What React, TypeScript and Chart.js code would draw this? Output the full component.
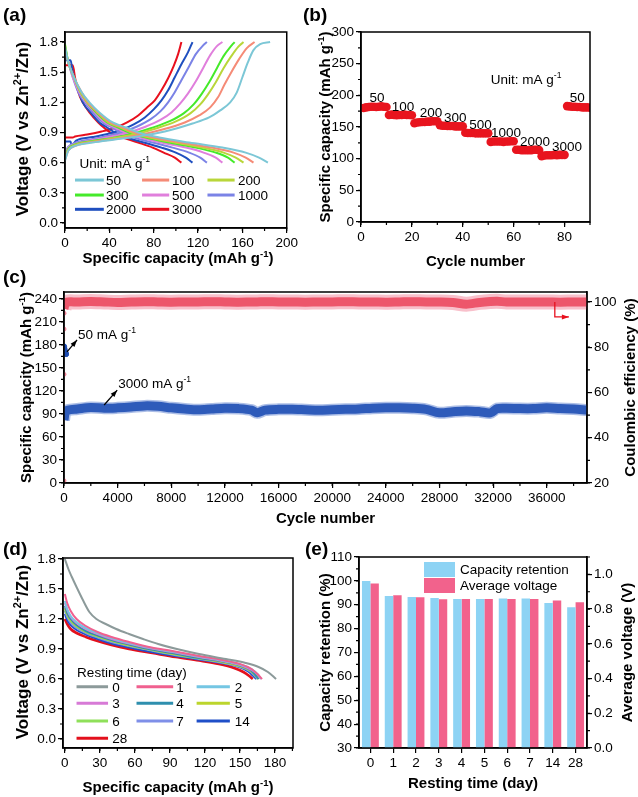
import React, { useEffect, useRef } from "react";
import { Chart, registerables } from "chart.js";
Chart.register(...registerables);

const FONT = '"Liberation Sans", Arial, Helvetica, sans-serif';
const TICK = 13.5;
const TITLE = 15;
const VTITLE = 17;
const PLABEL = 19;

type Pt = [number, number];
type Part = [string, boolean?];
type Rich = string | Part[];

// ---------------- Panel (a): charge/discharge at different rates ----------------
const rateLabels = ["50", "100", "200", "300", "500", "1000", "2000", "3000"];
const rateColors = ["#7cc7d6", "#f58b77", "#b9d63a", "#45ea2a", "#e07fdc", "#7b83e6", "#1f4fbf", "#e8101e"];

const dis50: Pt[] = [[0,1.75],[3,1.6],[8,1.45],[15,1.3],[22,1.2],[31,1.1],[43,1.0],[55,0.95],[66,0.9],[85,0.85],[112,0.8],[142,0.75],[163,0.7],[175,0.65],[183,0.6]];
const dis100: Pt[] = [[0,1.72],[3,1.6],[8,1.45],[15,1.3],[21,1.2],[30,1.1],[41,1.0],[52,0.95],[63,0.9],[80,0.85],[105,0.8],[132,0.75],[152,0.7],[163,0.65],[170,0.6]];
const dis200: Pt[] = [[0,1.76],[3,1.6],[8,1.45],[14,1.3],[20,1.2],[29,1.1],[39,1.0],[50,0.95],[60,0.9],[76,0.85],[99,0.8],[124,0.75],[143,0.7],[154,0.65],[161,0.6]];
const dis300: Pt[] = [[0,1.78],[3,1.6],[8,1.45],[14,1.3],[20,1.2],[28,1.1],[38,1.0],[48,0.95],[58,0.9],[73,0.85],[94,0.8],[118,0.75],[136,0.7],[147,0.65],[153,0.6]];
const dis500: Pt[] = [[0,1.74],[3,1.6],[7,1.45],[13,1.3],[19,1.2],[27,1.1],[36,1.0],[45,0.95],[54,0.9],[68,0.85],[87,0.8],[109,0.75],[125,0.7],[136,0.65],[142,0.6]];
const dis1000: Pt[] = [[0,1.72],[3,1.6],[7,1.45],[12,1.3],[18,1.2],[25,1.1],[34,1.0],[42,0.95],[50,0.9],[62,0.85],[79,0.8],[97,0.75],[112,0.7],[122,0.65],[128,0.6]];
const dis2000: Pt[] = [[0,1.62],[5,1.62],[7,1.5],[11,1.35],[16,1.2],[23,1.1],[31,1.0],[38,0.95],[45,0.9],[56,0.85],[71,0.8],[87,0.75],[100,0.7],[109,0.65],[115,0.6]];
const dis3000: Pt[] = [[0,1.57],[7,1.57],[9,1.45],[12,1.3],[16,1.2],[22,1.1],[30,1.0],[35,0.95],[41,0.9],[52,0.85],[66,0.8],[79,0.75],[89,0.7],[99,0.65],[105,0.6]];

const chg50: Pt[] = [[0,0.62],[3,0.72],[10,0.77],[25,0.8],[45,0.83],[65,0.86],[90,0.91],[115,0.99],[130,1.05],[140,1.12],[149,1.2],[155,1.3],[160,1.45],[165,1.6],[170,1.72],[176,1.78],[185,1.8]];
const chg100: Pt[] = [[0,0.63],[3,0.72],[10,0.77],[25,0.805],[45,0.835],[65,0.87],[88,0.93],[108,1.0],[121,1.07],[131,1.15],[138,1.25],[144,1.38],[150,1.5],[157,1.63],[164,1.74],[171,1.8]];
const chg200: Pt[] = [[0,0.65],[3,0.73],[10,0.78],[25,0.81],[45,0.845],[62,0.88],[82,0.94],[100,1.01],[113,1.09],[122,1.18],[129,1.28],[136,1.4],[143,1.54],[150,1.66],[156,1.75],[161,1.8]];
const chg300: Pt[] = [[0,0.66],[3,0.74],[10,0.785],[25,0.815],[45,0.85],[60,0.885],[78,0.945],[95,1.015],[107,1.09],[116,1.18],[123,1.28],[130,1.4],[137,1.54],[143,1.66],[149,1.75],[153,1.8]];
const chg500: Pt[] = [[0,0.68],[3,0.75],[10,0.79],[25,0.825],[42,0.86],[56,0.895],[72,0.955],[86,1.025],[96,1.1],[104,1.19],[111,1.29],[118,1.41],[125,1.55],[131,1.67],[137,1.76],[142,1.8]];
const chg1000: Pt[] = [[0,0.7],[3,0.76],[10,0.8],[25,0.835],[40,0.87],[52,0.905],[65,0.96],[77,1.03],[86,1.11],[93,1.2],[99,1.3],[105,1.42],[112,1.56],[118,1.68],[124,1.76],[128,1.8]];
const chg2000: Pt[] = [[0,0.81],[5,0.81],[6,0.77],[10,0.82],[25,0.855],[40,0.89],[52,0.93],[62,0.98],[72,1.05],[80,1.13],[87,1.22],[93,1.32],[99,1.45],[105,1.58],[111,1.7],[115,1.8]];
const chg3000: Pt[] = [[0,0.85],[7,0.85],[9,0.86],[20,0.88],[33,0.91],[46,0.95],[56,1.0],[66,1.07],[74,1.15],[81,1.22],[87,1.32],[93,1.44],[98,1.56],[102,1.68],[105,1.8]];

const aDis = [dis50, dis100, dis200, dis300, dis500, dis1000, dis2000, dis3000];
const aChg = [chg50, chg100, chg200, chg300, chg500, chg1000, chg2000, chg3000];
const aXTicks = [0, 40, 80, 120, 160, 200];
const aYTicks = [0, 0.3, 0.6, 0.9, 1.2, 1.5, 1.8];

// ---------------- Panel (b): rate capability ----------------
const bSeg50a = [180, 181, 181.5, 182, 182, 181.5, 182, 182.5, 182, 181.5];
const bSeg100 = [169, 169.5, 169, 168.5, 169, 169, 169.5, 169, 169, 168.5];
const bSeg200 = [156, 157, 157.5, 158, 158, 158.5, 158.5, 159, 159, 159];
const bSeg300 = [153, 152, 152, 151.5, 151.5, 151.5, 151, 151, 151, 151];
const bSeg500 = [141, 140.5, 140.5, 140.5, 140, 140, 140, 140, 140, 140];
const bSeg1000 = [126.5, 127, 127, 127, 127, 126.5, 127, 127, 127.5, 127.5];
const bSeg2000 = [114, 114, 113.5, 113.5, 113.5, 113.5, 113.5, 114, 114, 113.5];
const bSeg3000 = [104, 105, 105.5, 105.5, 105.5, 106, 105.5, 106, 106, 106];
const bSeg50b = [183, 182.5, 182, 182, 181.5, 181.5, 181, 181, 181, 180.5];
const bCapacity = [...bSeg50a, ...bSeg100, ...bSeg200, ...bSeg300, ...bSeg500, ...bSeg1000, ...bSeg2000, ...bSeg3000, ...bSeg50b];
const bXTicks = [0, 20, 40, 60, 80];
const bYTicks = [0, 50, 100, 150, 200, 250, 300];

// ---------------- Panel (c): long-term cycling ----------------
const cCycles = [1, 100, 300, 1000, 2000, 3000, 4000, 5000, 6000, 7000, 8000, 9000, 10000, 11000, 12000, 13000, 14000, 14400, 15000, 16000, 17000, 18000, 19000, 20000, 21000, 22000, 23000, 24000, 25000, 26000, 27000, 28000, 29000, 30000, 31000, 31800, 32300, 33000, 34000, 35000, 36000, 37000, 38000, 39000];
const cCapacity = [82, 92, 95, 96.5, 98.5, 97.5, 98, 99, 100.5, 100, 98, 96.5, 95.5, 96.5, 97.5, 97, 95, 91.5, 95, 96, 96, 95.5, 95, 95.5, 96, 96.5, 97.5, 98, 98, 97.5, 96, 91.5, 93, 94, 93, 91.5, 97, 97.5, 97, 97, 98, 97, 96.5, 95];
const cCE = [97, 99.5, 100, 100, 100.2, 100, 99.8, 100, 100.1, 100, 99.9, 100, 100, 100.1, 100, 99.9, 100, 100, 100.1, 100, 100, 99.9, 100, 100, 100.1, 100, 100, 99.9, 100, 100.1, 100, 100, 99.8, 99.0, 99.8, 100.2, 100.3, 100, 100, 100, 100, 99.9, 100, 100];
const cActCycles = [10, 40, 80, 120, 160];
const cActCapacity = [178, 175, 172, 170, 168];
const cInitCycles = [1, 2, 3, 4, 5];
const cInitCE = [21, 68, 78, 88, 95];
const cXTicks = [0, 4000, 8000, 12000, 16000, 20000, 24000, 28000, 32000, 36000];
const cYTicks = [0, 30, 60, 90, 120, 150, 180, 210, 240];
const cY2Ticks = [20, 40, 60, 80, 100];

// ---------------- Panel (d): self-discharge curves ----------------
const restLabels = ["0", "1", "2", "3", "4", "5", "6", "7", "14", "28"];
const restColors = ["#8c9a9a", "#f0608f", "#74c6e3", "#d77ad6", "#2e8fae", "#bcd52c", "#8fe05a", "#7f8fe8", "#1f4fc8", "#e3101c"];
const day0: Pt[] = [[0,1.8],[3,1.7],[6,1.62],[10,1.52],[15,1.4],[21,1.27],[27,1.2],[35,1.15],[44,1.1],[55,1.05],[67,1.0],[80,0.95],[96,0.9],[115,0.85],[138,0.8],[155,0.76],[166,0.72],[174,0.67],[181,0.6]];
const day1: Pt[] = [[0,1.45],[2,1.36],[5,1.28],[10,1.2],[18,1.13],[28,1.07],[40,1.02],[55,0.97],[72,0.92],[92,0.88],[115,0.83],[135,0.79],[150,0.75],[160,0.7],[165,0.65],[169,0.6]];
const day2: Pt[] = [[0,1.38],[2,1.3],[5,1.23],[10,1.17],[18,1.11],[28,1.06],[40,1.01],[55,0.96],[72,0.915],[92,0.875],[115,0.825],[135,0.785],[150,0.745],[160,0.7],[165,0.65],[168,0.6]];
const day3: Pt[] = [[0,1.36],[2,1.29],[5,1.22],[10,1.16],[18,1.1],[28,1.05],[40,1.0],[55,0.955],[72,0.91],[92,0.87],[115,0.82],[135,0.78],[150,0.74],[160,0.69],[165,0.645],[168,0.6]];
const day4: Pt[] = [[0,1.33],[2,1.26],[5,1.2],[10,1.14],[18,1.08],[28,1.035],[40,0.99],[55,0.945],[72,0.9],[92,0.86],[115,0.81],[135,0.775],[150,0.735],[159,0.69],[163,0.645],[166,0.6]];
const day5: Pt[] = [[0,1.31],[2,1.25],[5,1.19],[10,1.13],[18,1.075],[28,1.03],[40,0.985],[55,0.94],[72,0.9],[92,0.855],[115,0.81],[135,0.77],[150,0.73],[159,0.685],[163,0.64],[166,0.6]];
const day6: Pt[] = [[0,1.3],[2,1.24],[5,1.18],[10,1.125],[18,1.07],[28,1.025],[40,0.98],[55,0.935],[72,0.895],[92,0.85],[115,0.805],[135,0.768],[150,0.728],[159,0.683],[163,0.64],[166,0.6]];
const day7: Pt[] = [[0,1.28],[2,1.22],[5,1.16],[10,1.11],[18,1.06],[28,1.015],[40,0.97],[55,0.93],[72,0.89],[92,0.845],[115,0.8],[135,0.762],[150,0.722],[158,0.68],[162,0.64],[165,0.6]];
const day14: Pt[] = [[0,1.25],[2,1.19],[5,1.14],[10,1.09],[18,1.045],[28,1.0],[40,0.955],[55,0.915],[72,0.875],[92,0.835],[115,0.795],[135,0.758],[150,0.718],[157,0.675],[161,0.635],[164,0.6]];
const day28: Pt[] = [[0,1.2],[2,1.15],[5,1.1],[10,1.06],[18,1.02],[28,0.98],[40,0.94],[55,0.9],[75,0.86],[95,0.82],[115,0.785],[132,0.75],[145,0.71],[153,0.67],[158,0.63],[161,0.6]];
const dCurves = [day0, day1, day2, day3, day4, day5, day6, day7, day14, day28];
const dXTicks = [0, 30, 60, 90, 120, 150, 180];
const dYTicks = [0, 0.3, 0.6, 0.9, 1.2, 1.5, 1.8];

// ---------------- Panel (e): retention & average voltage ----------------
const eRetention = [100, 93.7, 93.2, 92.8, 92.4, 92.4, 92.6, 92.6, 90.7, 89.0];
const eAvgVoltage = [0.947, 0.879, 0.868, 0.857, 0.858, 0.858, 0.858, 0.858, 0.849, 0.84];
const eYTicks = [30, 40, 50, 60, 70, 80, 90, 100, 110];
const eY2Ticks = [0, 0.2, 0.4, 0.6, 0.8, 1.0];

// ---------------- helpers ----------------
const capTitle: Part[] = [["Specific capacity (mAh g"], ["-1", true], [")"]];
const voltTitle: Part[] = [["Voltage (V vs Zn"], ["2+", true], ["/Zn)"]];
const unitText: Part[] = [["Unit: mA g"], ["-1", true]];
const mAText = (v: string): Part[] => [[v + " mA g"], ["-1", true]];

const toXY = (arr: Pt[]) => arr.map(([x, y]) => ({ x, y }));

function drawRich(ctx: CanvasRenderingContext2D, rich: Rich, x: number, y: number, size: number, bold: boolean, align: string, rot: number, color: string) {
  const parts: Part[] = typeof rich === "string" ? [[rich]] : rich;
  const f = (s: number) => `${bold ? "bold " : ""}${s}px ${FONT}`;
  let w = 0;
  const ws = parts.map(([t, sup]) => {
    ctx.font = f(sup ? size * 0.64 : size);
    const m = ctx.measureText(t).width;
    w += m;
    return m;
  });
  ctx.save();
  ctx.translate(x, y);
  ctx.rotate(rot);
  ctx.fillStyle = color;
  ctx.textBaseline = "alphabetic";
  ctx.textAlign = "left";
  let cx = align === "center" ? -w / 2 : align === "right" ? -w : 0;
  const base = size * 0.36;
  parts.forEach(([t, sup], i) => {
    ctx.font = f(sup ? size * 0.64 : size);
    ctx.fillText(t, cx, sup ? base - size * 0.42 : base);
    cx += ws[i];
  });
  ctx.restore();
}

function arrowHead(ctx: CanvasRenderingContext2D, x1: number, y1: number, x2: number, y2: number, len: number, wid: number) {
  const a = Math.atan2(y2 - y1, x2 - x1);
  const c = Math.cos(a), s = Math.sin(a);
  ctx.beginPath();
  ctx.moveTo(x2, y2);
  ctx.lineTo(x2 - len * c + (wid / 2) * s, y2 - len * s - (wid / 2) * c);
  ctx.lineTo(x2 - len * c - (wid / 2) * s, y2 - len * s + (wid / 2) * c);
  ctx.closePath();
  ctx.fill();
}

interface TextItem { t: Rich; x: number; y: number; mode?: "px" | "data" | "ca"; xa?: string; ya?: string; size?: number; bold?: boolean; align?: string; rot?: number; color?: string }
interface DecoCfg {
  minor: [string, number][];
  texts: TextItem[];
  lines?: { x1: number; x2: number; y: number; color: string }[];
  boxes?: { x: number; y: number; w: number; h: number; color: string }[];
  arrows?: { pts: Pt[]; ya?: string; color: string }[];
}

function makeDeco(cfg: DecoCfg) {
  return {
    id: "deco",
    afterDraw(chart: any) {
      const { ctx, chartArea: ca, scales } = chart;
      ctx.save();
      ctx.strokeStyle = "#000";
      ctx.lineWidth = 1.2;
      for (const [id, step] of cfg.minor) {
        const s = scales[id];
        const n0 = Math.ceil(s.min / step - 1e-6);
        const n1 = Math.floor(s.max / step + 1e-6);
        ctx.beginPath();
        for (let n = n0; n <= n1; n++) {
          const p = s.getPixelForValue(n * step);
          if (s.isHorizontal()) { ctx.moveTo(p, ca.bottom); ctx.lineTo(p, ca.bottom + 3); }
          else if (s.position === "right") { ctx.moveTo(ca.right, p); ctx.lineTo(ca.right + 3, p); }
          else { ctx.moveTo(ca.left, p); ctx.lineTo(ca.left - 3, p); }
        }
        ctx.stroke();
      }
      ctx.lineWidth = 1.5;
      ctx.strokeStyle = "#000";
      ctx.strokeRect(ca.left, ca.top, ca.right - ca.left, ca.bottom - ca.top);
      for (const l of cfg.lines || []) {
        const xs = scales.x, ys = scales.y;
        ctx.strokeStyle = l.color;
        ctx.lineWidth = 3;
        ctx.beginPath();
        ctx.moveTo(xs.getPixelForValue(l.x1), ys.getPixelForValue(l.y));
        ctx.lineTo(xs.getPixelForValue(l.x2), ys.getPixelForValue(l.y));
        ctx.stroke();
      }
      for (const b of cfg.boxes || []) {
        ctx.fillStyle = b.color;
        ctx.fillRect(ca.left + b.x, ca.top + b.y, b.w, b.h);
      }
      for (const a of cfg.arrows || []) {
        const xs = scales.x, ys = scales[a.ya || "y"];
        const pts = a.pts.map(([x, y]) => [xs.getPixelForValue(x), ys.getPixelForValue(y)]);
        ctx.strokeStyle = a.color;
        ctx.fillStyle = a.color;
        ctx.lineWidth = 1.3;
        ctx.beginPath();
        pts.forEach(([x, y], i) => (i ? ctx.lineTo(x, y) : ctx.moveTo(x, y)));
        ctx.stroke();
        const [x1, y1] = pts[pts.length - 2];
        const [x2, y2] = pts[pts.length - 1];
        arrowHead(ctx, x1, y1, x2, y2, 7, 5);
      }
      for (const t of cfg.texts) {
        let x = t.x, y = t.y;
        if (t.mode === "data") { x = scales[t.xa || "x"].getPixelForValue(t.x); y = scales[t.ya || "y"].getPixelForValue(t.y); }
        else if (t.mode === "ca") { x = ca.left + t.x; y = ca.top + t.y; }
        drawRich(ctx, t.t, x, y, t.size || TICK, !!t.bold, t.align || "left", t.rot || 0, t.color || "#000");
      }
      ctx.restore();
    },
  };
}

const fmt1 = (v: number) => v.toFixed(1);
const fmt0 = (v: number) => String(v);

function linAxis(position: string, min: number, max: number, ticks: number[], size: { w?: number; h?: number }, fmt: (v: number) => string) {
  return {
    type: "linear",
    position,
    min,
    max,
    afterBuildTicks: (s: any) => { s.ticks = ticks.map((v) => ({ value: v })); },
    afterFit: (s: any) => { if (size.w != null) s.width = size.w; if (size.h != null) s.height = size.h; },
    ticks: { callback: (v: any) => fmt(Number(v)), font: { family: FONT, size: TICK }, color: "#000", padding: 2, maxRotation: 0, autoSkip: false },
    grid: { display: true, drawOnChartArea: false, drawTicks: true, tickLength: 5, color: "#000", lineWidth: 1.2 },
    border: { display: true, color: "#000", width: 1.5 },
  };
}

const baseOpts = (padding: any) => ({
  responsive: false,
  animation: false,
  devicePixelRatio: 1,
  events: [],
  layout: { padding },
  plugins: { legend: { display: false }, tooltip: { enabled: false } },
});

const title = (t: Rich, x: number, y: number, rot = 0, size = TITLE): TextItem => ({ t, x, y, size, bold: true, align: "center", rot });
const plabel = (t: string, x: number, y: number): TextItem => ({ t, x, y, size: PLABEL, bold: true, align: "left" });
const NEG90 = -Math.PI / 2;

// ---------------- chart builders ----------------
function buildA() {
  const datasets: any[] = [];
  rateLabels.forEach((_, i) => {
    const common = { borderColor: rateColors[i], borderWidth: 2, pointRadius: 0, cubicInterpolationMode: "monotone", fill: false };
    datasets.push({ ...common, data: toXY(aDis[i]) });
    datasets.push({ ...common, data: toXY(aChg[i]) });
  });
  const legendCols = [[9, 35, 37], [69.5, 94, 96.5], [128.5, 153, 156]];
  const legendRows = [0.427, 0.278, 0.136];
  const lines: any[] = [];
  const texts: TextItem[] = [
    plabel("(a)", 3, 14),
    title(voltTitle, 22, 129, NEG90, VTITLE),
    title(capTitle, 178, 258),
    { t: unitText, x: 13, y: 0.6, mode: "data" },
  ];
  rateLabels.forEach((lab, i) => {
    const c = legendCols[i % 3], r = legendRows[Math.floor(i / 3)];
    lines.push({ x1: c[0], x2: c[1], y: r, color: rateColors[i] });
    texts.push({ t: lab, x: c[2], y: r, mode: "data" });
  });
  return {
    type: "line",
    data: { datasets },
    options: {
      ...baseOpts({ left: 0, top: 32, right: 10, bottom: 0 }),
      scales: {
        x: linAxis("bottom", 0, 200, aXTicks, { h: 44 }, fmt0),
        y: linAxis("left", -0.05, 1.9, aYTicks, { w: 65 }, fmt1),
      },
    },
    plugins: [makeDeco({ minor: [["x", 20], ["y", 0.15]], texts, lines })],
  };
}

function buildB() {
  const pts = bCapacity.map((v, i) => ({ x: i + 1, y: v }));
  const labs: [string, number, number][] = [["50", 6.3, 197], ["100", 16.5, 183], ["200", 27.5, 173], ["300", 37, 166], ["500", 47, 155], ["1000", 57, 141.6], ["2000", 68.4, 127], ["3000", 81, 119.5], ["50", 85, 197]];
  const texts: TextItem[] = [
    plabel("(b)", 3, 14),
    title(capTitle, 25, 127, NEG90),
    title("Cycle number", 175.5, 261),
    { t: unitText, x: 51, y: 226, mode: "data" },
    ...labs.map(([t, x, y]) => ({ t, x, y, mode: "data" as const, align: "center" })),
  ];
  return {
    type: "scatter",
    data: { datasets: [{ data: pts, backgroundColor: "#e8141e", borderColor: "#e8141e", borderWidth: 0, pointRadius: 4.3 }] },
    options: {
      ...baseOpts({ left: 0, top: 32, right: 48, bottom: 0 }),
      scales: {
        x: linAxis("bottom", 0, 90, bXTicks, { h: 50 }, fmt0),
        y: linAxis("left", 0, 300, bYTicks, { w: 61 }, fmt0),
      },
    },
    plugins: [makeDeco({ minor: [["x", 10], ["y", 25]], texts })],
  };
}

function buildC() {
  const cap = cCycles.map((x, i) => ({ x, y: cCapacity[i] }));
  const ce = cCycles.map((x, i) => ({ x, y: cCE[i] }));
  const texts: TextItem[] = [
    plabel("(c)", 3, 11),
    title(capTitle, 26, 122.5, NEG90),
    title("Coulombic efficiency (%)", 630, 122.5, NEG90),
    title("Cycle number", 325.5, 253),
    { t: mAText("50"), x: 1048, y: 194, mode: "data" },
    { t: mAText("3000"), x: 4042, y: 130, mode: "data" },
  ];
  const line = (data: any, color: string, w: number, yAxisID = "y") => ({ data, borderColor: color, borderWidth: w, pointRadius: 0, fill: false, yAxisID, clip: 0, tension: 0.3, borderJoinStyle: "round" });
  return {
    type: "line",
    data: {
      datasets: [
        line(cap, "rgba(70,110,200,0.45)", 12),
        line(cap, "#1b4bb0", 9),
        { data: cActCycles.map((x, i) => ({ x, y: cActCapacity[i] })), showLine: false, pointRadius: 2.5, backgroundColor: "#1d4cb0", borderColor: "#1d4cb0", yAxisID: "y", clip: 0 },
        line(ce, "rgba(243,140,160,0.55)", 15, "y2"),
        line(ce, "#e6142a", 9, "y2"),
        { data: cInitCycles.map((x, i) => ({ x, y: cInitCE[i] })), showLine: false, pointRadius: 2, backgroundColor: "rgba(240,120,140,0.8)", borderColor: "rgba(240,120,140,0.8)", yAxisID: "y2", clip: 0 },
      ],
    },
    options: {
      ...baseOpts({ left: 0, top: 27, right: 0, bottom: 0 }),
      scales: {
        x: linAxis("bottom", 0, 39000, cXTicks, { h: 47 }, fmt0),
        y: linAxis("left", 0, 249, cYTicks, { w: 64 }, fmt0),
        y2: linAxis("right", 20, 104.4, cY2Ticks, { w: 51 }, fmt0),
      },
    },
    plugins: [makeDeco({
      minor: [["x", 2000], ["y", 15], ["y2", 10]],
      texts,
      arrows: [
        { pts: [[225, 171], [973, 186.5]], color: "#000" },
        { pts: [[2994, 101.7], [3967, 121]], color: "#000" },
        { pts: [[36600, 100], [36600, 93.4], [37650, 93.4]], ya: "y2", color: "#e8101e" },
      ],
    })],
  };
}

function buildD() {
  const datasets = dCurves.map((c, i) => ({ data: toXY(c), borderColor: restColors[i], borderWidth: i === 9 ? 2.6 : 2, pointRadius: 0, cubicInterpolationMode: "monotone", fill: false }));
  const cols = [[10, 37, 40.5], [61.4, 92.8, 95.5], [112.9, 141.4, 145.5]];
  const rows = [0.523, 0.357, 0.18, 0.007];
  const lines: any[] = [];
  const texts: TextItem[] = [
    plabel("(d)", 3, 18),
    title(voltTitle, 22, 122, NEG90, VTITLE),
    title(capTitle, 178, 257),
    { t: "Resting time (day)", x: 10.5, y: 0.673, mode: "data" },
  ];
  restLabels.forEach((lab, i) => {
    const c = cols[i % 3], r = rows[Math.floor(i / 3)];
    lines.push({ x1: c[0], x2: c[1], y: r, color: restColors[i] });
    texts.push({ t: lab, x: c[2], y: r, mode: "data" });
  });
  return {
    type: "line",
    data: { datasets },
    options: {
      ...baseOpts({ left: 0, top: 28, right: 12, bottom: 0 }),
      scales: {
        x: linAxis("bottom", -1.6, 195.5, dXTicks, { h: 49 }, fmt0),
        y: linAxis("left", -0.09, 1.81, dYTicks, { w: 63 }, fmt1),
      },
    },
    plugins: [makeDeco({ minor: [["x", 15], ["y", 0.15]], texts, lines })],
  };
}

function buildE() {
  const texts: TextItem[] = [
    plabel("(e)", 7, 18),
    title("Capacity retention (%)", 27, 122.5, NEG90),
    title("Average voltage (V)", 329, 122.5, NEG90),
    title("Resting time (day)", 175, 253),
    { t: "Capacity retention", x: 101, y: 12.5, mode: "ca" },
    { t: "Average voltage", x: 101, y: 28.5, mode: "ca" },
  ];
  return {
    type: "bar",
    data: {
      labels: restLabels,
      datasets: [
        { data: eRetention, backgroundColor: "#8dd3f4", yAxisID: "y", categoryPercentage: 0.74, barPercentage: 1.0 },
        { data: eAvgVoltage, backgroundColor: "#f2628c", yAxisID: "y2", categoryPercentage: 0.74, barPercentage: 1.0 },
      ],
    },
    options: {
      ...baseOpts({ left: 0, top: 27, right: 0, bottom: 0 }),
      scales: {
        x: {
          type: "category",
          position: "bottom",
          afterFit: (s: any) => { s.height = 49; },
          ticks: { font: { family: FONT, size: TICK }, color: "#000", padding: 2, maxRotation: 0, autoSkip: false },
          grid: { display: true, offset: false, drawOnChartArea: false, drawTicks: true, tickLength: 5, color: "#000", lineWidth: 1.2 },
          border: { display: true, color: "#000", width: 1.5 },
        },
        y: linAxis("left", 30, 110, eYTicks, { w: 61 }, fmt0),
        y2: linAxis("right", 0, 1.1, eY2Ticks, { w: 51 }, fmt1),
      },
    },
    plugins: [makeDeco({
      minor: [["y", 5], ["y2", 0.1]],
      texts,
      boxes: [
        { x: 65, y: 5, w: 31, h: 15, color: "#8dd3f4" },
        { x: 65, y: 21, w: 31, h: 15, color: "#f2628c" },
      ],
    })],
  };
}

function Panel({ left, top, width, height, build }: { left: number; top: number; width: number; height: number; build: () => any }) {
  const ref = useRef<HTMLCanvasElement>(null);
  useEffect(() => {
    const chart = new Chart(ref.current as HTMLCanvasElement, build() as any);
    return () => chart.destroy();
  }, []);
  return <canvas ref={ref} width={width} height={height} style={{ position: "absolute", left, top, width, height }} />;
}

export default function App() {
  return (
    <div style={{ position: "absolute", left: 0, top: 0, width: 638, height: 797, background: "#fff", overflow: "hidden" }}>
      <Panel left={0} top={0} width={300} height={272} build={buildA} />
      <Panel left={300} top={0} width={338} height={272} build={buildB} />
      <Panel left={0} top={265} width={638} height={265} build={buildC} />
      <Panel left={0} top={530} width={305} height={267} build={buildD} />
      <Panel left={298} top={530} width={340} height={267} build={buildE} />
    </div>
  );
}
